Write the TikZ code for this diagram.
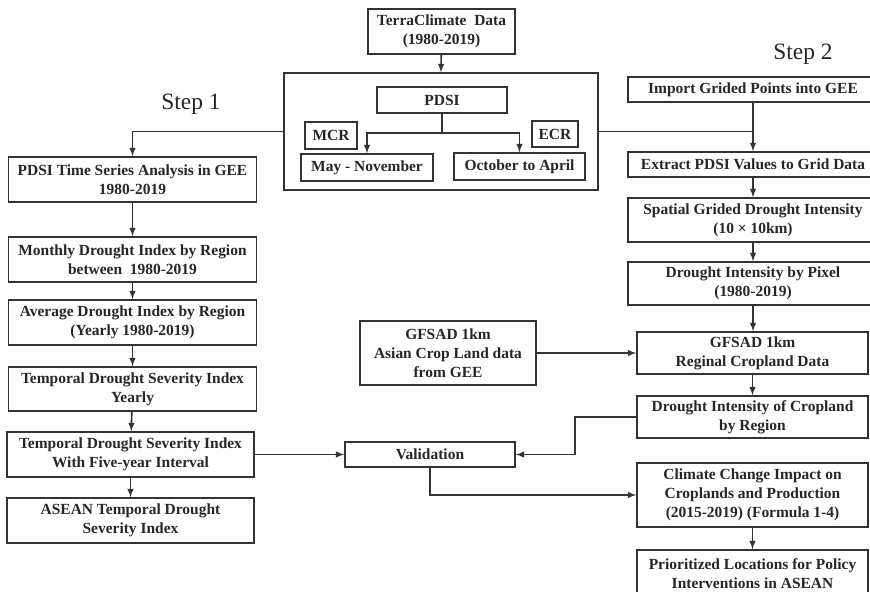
\documentclass[tikz,border=0pt]{standalone}
\usepackage{fontspec}
\setmainfont{Liberation Serif}
\usetikzlibrary{positioning}

\begin{document}
\begin{tikzpicture}[x=0.3mm, y=-0.3mm,
  box/.style={draw=black!80, line width=1.4pt, text=black!85, align=center,
    inner sep=0pt, font=\fontsize{13.2}{16.4}\selectfont\bfseries},
  bx/.style 2 args={minimum width=#1*0.3mm, minimum height=#2*0.3mm},
  arr/.style={-latex, draw=black!80, line width=1.4pt},
  line/.style={draw=black!80, line width=1.4pt},
  steplabel/.style={text=black!85, font=\fontsize{20}{24}\selectfont}]

%% frame of the picture (pixel units, y downwards)
\useasboundingbox (0,0) rectangle (870,592);
\clip (0,0) rectangle (870,592);

%% ---------- source data and seasons ----------
\node[box, bx={147}{45}] (terra) at (441.5,31.5)
  {TerraClimate\ \ Data\\(1980-2019)};
\node[draw=black!80, line width=1.4pt, bx={314}{117}, inner sep=0pt]
  (outer) at (441,131.5) {};
\node[box, bx={130}{26}] (pdsi) at (442,100) {PDSI};
\node[box, bx={52}{27}] (mcr) at (331,135.5) {MCR};
\node[box, bx={46}{26}] (ecr) at (555,134) {ECR};
\node[box, bx={132}{27}] (may) at (367,167.5) {May - November};
\node[box, bx={131}{27}] (oct) at (519.5,166.5) {October to April};
\coordinate (split) at (442,133);

\draw[arr] (terra) -- (outer.north);
\draw[line] (pdsi) -- (split);
\draw[arr] (split) -| (may.north);
\draw[arr] (split) -| (oct.north);

%% ---------- step 1: temporal index ----------
\node[steplabel] (step1) at (191,104) {Step 1};

\node[box, bx={248}{45}] (s1a) at (132.5,179.5)
  {PDSI Time Series Analysis in GEE\\1980-2019};
\node[box, bx={248}{45}] (s1b) at (132.5,259.5)
  {Monthly Drought Index by Region\\between\ \ 1980-2019};
\node[box, bx={248}{45}] (s1c) at (132.5,322.5)
  {Average Drought Index by Region\\(Yearly 1980-2019)};
\node[box, bx={248}{44}] (s1d) at (132.5,389)
  {Temporal Drought Severity Index\\Yearly};
\node[box, bx={247}{45}] (s1e) at (130.5,454.5)
  {Temporal Drought Severity Index\\With Five-year Interval};
\node[box, bx={247}{45}] (s1f) at (130.5,520.5)
  {ASEAN Temporal Drought\\Severity Index};

\draw[arr] (outer.west) -| (s1a.north);
\draw[arr] (s1a) -- (s1b);
\draw[arr] (s1b) -- (s1c);
\draw[arr] (s1c) -- (s1d);
\draw[arr] (s1d) -- (s1e);
\draw[arr] (s1e) -- (s1f);

%% ---------- step 2: spatial index ----------
\node[steplabel] (step2) at (803,54) {Step 2};

\node[box, bx={250}{25}] (import) at (753,89.5)
  {Import Grided Points into GEE};
\node[box, bx={250}{25}] (extract) at (753,164.5)
  {Extract PDSI Values to Grid Data};
\node[box, bx={250}{44}] (spatial) at (753,220)
  {Spatial Grided Drought Intensity\\(10 × 10km)};
\node[box, bx={250}{43}] (pixel) at (753,283.5)
  {Drought Intensity by Pixel\\(1980-2019)};
\node[box, bx={231}{42}] (gfreg) at (752.5,353)
  {GFSAD 1km\\Reginal Cropland Data};
\node[box, bx={231}{42}] (crop) at (752.5,417)
  {Drought Intensity of Cropland\\by Region};
\node[box, bx={231}{64}] (climate) at (752.5,495)
  {Climate Change Impact on\\Croplands and Production\\(2015-2019) (Formula 1-4)};
\node[box, bx={231}{47}] (prior) at (752.5,573.5)
  {Prioritized Locations for Policy\\Interventions in ASEAN};

\node[box, bx={176}{64}] (gfleft) at (448,353)
  {GFSAD 1km\\Asian Crop Land data\\from GEE};
\node[box, bx={170}{25}] (valid) at (430,454.5)
  {Validation};

\draw[line] (outer.east) -- (outer.east -| extract.north);
\draw[arr] (import) -- (extract);
\draw[arr] (extract) -- (spatial);
\draw[arr] (spatial) -- (pixel);
\draw[arr] (pixel.south) -- (pixel.south |- gfreg.north);
\draw[arr] (gfreg.south) -- (gfreg.south |- crop.north);
\draw[arr] (gfleft) -- (gfreg);
\draw[arr] (crop.west) -- ++(-61,0) |- (valid.east);
\draw[arr] (s1e) -- (valid);
\draw[arr] (valid.south) |- (climate.west);
\draw[arr] (climate) -- (prior);

\end{tikzpicture}
\end{document}
